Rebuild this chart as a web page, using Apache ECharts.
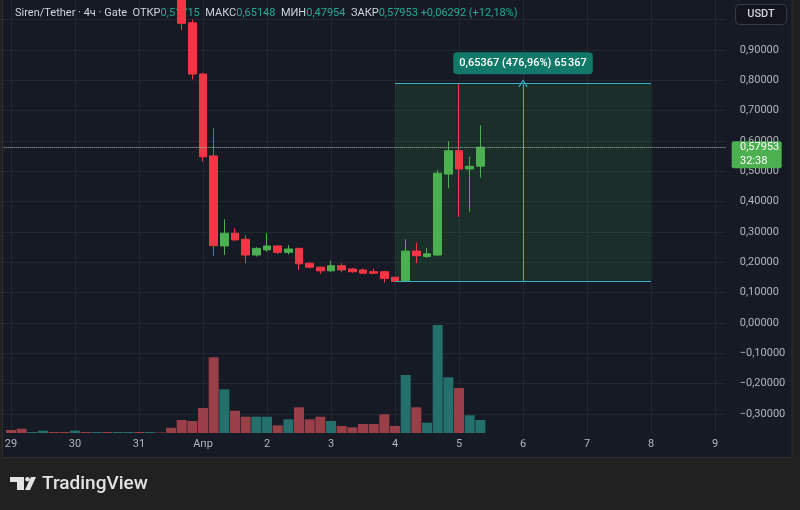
<!DOCTYPE html>
<html>
<head>
<meta charset="utf-8">
<script src="https://cdn.jsdelivr.net/npm/echarts@6/dist/echarts.min.js"></script>
<style>
html, body { margin: 0; padding: 0; background: #212121; }
#main { width: 800px; height: 510px; }
</style>
</head>
<body>
<div id="main"></div>
<script>
var DAYS = ['29', '30', '31', 'Апр', '2', '3', '4', '5', '6', '7', '8', '9'];
var HOURS = ['00', '04', '08', '12', '16', '20'];
var SLOT_COUNT = 69; // one empty slot before 29 00:00, then 4h slots up to 9 04:00

// 4h candles from 29 Mar 00:00, [open, close, low, high]
var candles = [
	[1.47, 1.45, 1.43, 1.49], [1.45, 1.42, 1.40, 1.46], [1.42, 1.43, 1.41, 1.44], [1.43, 1.45, 1.42, 1.46],
	[1.45, 1.44, 1.43, 1.46], [1.44, 1.43, 1.42, 1.45], [1.43, 1.45, 1.42, 1.46], [1.45, 1.44, 1.43, 1.46],
	[1.44, 1.45, 1.43, 1.46], [1.45, 1.44, 1.43, 1.46], [1.44, 1.45, 1.43, 1.46], [1.45, 1.46, 1.44, 1.47],
	[1.46, 1.44, 1.43, 1.47], [1.44, 1.45, 1.43, 1.46], [1.45, 1.44, 1.43, 1.46], [1.44, 1.30, 1.28, 1.45],
	[1.30, 0.988, 0.966, 1.31], [0.990, 0.821, 0.803, 1.001], [0.821, 0.548, 0.532, 0.825], [0.551, 0.255, 0.221, 0.642],
	[0.254, 0.296, 0.224, 0.342], [0.296, 0.274, 0.271, 0.312], [0.276, 0.224, 0.197, 0.290], [0.224, 0.246, 0.219, 0.250],
	[0.241, 0.254, 0.235, 0.296], [0.254, 0.233, 0.227, 0.256], [0.233, 0.244, 0.226, 0.257], [0.246, 0.195, 0.175, 0.248],
	[0.197, 0.184, 0.180, 0.199], [0.184, 0.172, 0.162, 0.186], [0.172, 0.189, 0.169, 0.205], [0.189, 0.175, 0.167, 0.197],
	[0.178, 0.169, 0.166, 0.181], [0.175, 0.164, 0.162, 0.179], [0.169, 0.164, 0.161, 0.178], [0.169, 0.147, 0.133, 0.171],
	[0.151, 0.137, 0.137, 0.152], [0.137, 0.237, 0.137, 0.276], [0.237, 0.222, 0.197, 0.265], [0.219, 0.228, 0.215, 0.248],
	[0.224, 0.494, 0.222, 0.504], [0.491, 0.568, 0.444, 0.600], [0.568, 0.508, 0.350, 0.79072], [0.508, 0.51661, 0.367, 0.548],
	[0.51715, 0.57953, 0.47954, 0.65148]
];

// volume, millions
var volumes = [
	0.30, 0.43, 0.10, 0.23, 0.10, 0.10, 0.23, 0.10, 0.10, 0.10, 0.10, 0.10, 0.10, 0.10, 0.05,
	0.53, 1.30, 1.20, 2.50, 7.57, 4.37, 2.23, 1.63, 1.63, 1.63, 0.77, 1.37, 2.57, 1.37, 1.63,
	1.20, 0.70, 0.57, 0.90, 0.90, 1.87, 0.70, 5.80, 2.57, 1.03, 10.80, 5.57, 4.50, 1.77, 1.30
];

// price range tool
var measureFrom = 36;
var measureTo = 60;
var measureLow = 0.13705;
var measureHigh = 0.79072;

var symbolTitle = 'Siren/Tether · 4ч · Gate';
var barTimer = '32:38';

var UP = '#4caf50';
var DOWN = '#f23645';
var GRID = '#232733';
var TEXT = '#b2b5be';
var RANGE = '#36b0c2';

function fmt(v) {
	var s = Math.abs(v).toFixed(5).replace('.', ',');
	return (v < -1e-9 ? '−' : '') + s;
}

function groupThousands(n) {
	return String(n).replace(/\B(?=(\d{3})+(?!\d))/g, '\u202f');
}

var categories = ['28 20'];
DAYS.forEach(function(d) {
	HOURS.forEach(function(h) {
		categories.push(d + ' ' + h);
	});
});
categories = categories.slice(0, SLOT_COUNT);

// slot 0 is empty, candle i sits in slot i + 1
var candleData = [['-', '-', '-', '-']].concat(candles);
var volumeData = ['-'].concat(volumes.map(function(v, i) {
	var c = candles[i];
	return {
		value: v,
		itemStyle: { color: c[1] >= c[0] ? '#23706c' : '#9a3f47' }
	};
}));

var last = candles[candles.length - 1];
var prevClose = candles[candles.length - 2][1];
var change = last[1] - prevClose;
var changePct = change / prevClose * 100;
var mDiff = measureHigh - measureLow;
var mPct = mDiff / measureLow * 100;
var mLabel = fmt(mDiff) + ' (' + mPct.toFixed(2).replace('.', ',') + '%) ' + groupThousands(Math.round(mDiff * 1e5));
var mMid = (measureFrom + measureTo) / 2 + 1;

function isDayStart(index) {
	return index > 0 && (index - 1) % 6 == 0;
}

var chart = echarts.init(document.getElementById('main'));
var option = {
	animation: false,
	backgroundColor: '#161a25',
	textStyle: { fontFamily: 'Roboto, sans-serif' },
	grid: [
		{ left: 0.33, right: 74.3, top: -10.6, bottom: 65.7, outerBoundsMode: 'none', containLabel: false },
		{ left: 0.33, right: 74.3, top: 0, bottom: 77, outerBoundsMode: 'none', containLabel: false }
	],
	xAxis: [{
		type: 'category',
		gridIndex: 0,
		data: categories,
		boundaryGap: false,
		show: false
	}, {
		type: 'category',
		gridIndex: 1,
		data: categories,
		boundaryGap: false,
		axisLine: { show: false },
		axisTick: { show: false },
		axisLabel: {
			color: TEXT,
			fontSize: 11,
			margin: 6,
			interval: function(index) {
				return isDayStart(index);
			},
			formatter: function(value) {
				return value.split(' ')[0];
			}
		},
		splitLine: {
			show: true,
			interval: function(index) {
				return isDayStart(index);
			},
			lineStyle: { color: GRID, width: 1 }
		}
	}],
	yAxis: [{
		type: 'value',
		gridIndex: 0,
		position: 'right',
		min: -0.4,
		max: 1.1,
		interval: 0.1,
		axisLine: { show: false },
		axisTick: { show: false },
		axisLabel: {
			color: TEXT,
			fontSize: 11,
			margin: 14,
			formatter: function(v) {
				if (v > 0.95 || v < -0.35) {
					return '';
				}
				return fmt(v);
			}
		},
		splitLine: {
			show: true,
			showMinLine: false,
			showMaxLine: false,
			lineStyle: { color: GRID, width: 1 }
		}
	}, {
		type: 'value',
		gridIndex: 1,
		min: 0,
		max: 43.3,
		show: false,
		splitLine: { show: false }
	}],
	series: [{
		type: 'bar',
		name: 'volume',
		xAxisIndex: 1,
		yAxisIndex: 1,
		data: volumeData,
		barWidth: 10,
		silent: true
	}, {
		type: 'candlestick',
		name: 'Siren/Tether',
		xAxisIndex: 0,
		yAxisIndex: 0,
		data: candleData,
		barWidth: 8,
		itemStyle: {
			color: UP,
			color0: DOWN,
			borderColor: UP,
			borderColor0: DOWN,
			borderWidth: 1
		},
		markArea: {
			silent: true,
			itemStyle: { color: 'rgba(60,150,70,0.17)', borderWidth: 0 },
			data: [[
				{ coord: [measureFrom + 1, measureHigh] },
				{ coord: [measureTo + 1, measureLow] }
			]]
		},
		markLine: {
			silent: true,
			symbol: ['none', 'none'],
			label: { show: false },
			emphasis: { disabled: true },
			lineStyle: { color: RANGE, width: 1, type: 'solid', opacity: 1 },
			data: [
				[{ coord: [measureFrom + 1, measureHigh] }, { coord: [measureTo + 1, measureHigh] }],
				[{ coord: [measureFrom + 1, measureLow] }, { coord: [measureTo + 1, measureLow] }],
				[
					{ coord: [mMid, measureLow], symbol: 'none' },
					{ coord: [mMid, measureHigh], symbol: 'path://M0 9 L5 0 L10 9 L9 10 L5 2.5 L1 10 Z', symbolSize: [9, 8] }
				],
				{ yAxis: last[1], lineStyle: { color: '#9fb8a5', type: 'dotted', width: 1 } }
			]
		},
		markPoint: {
			silent: true,
			symbol: 'rect',
			symbolSize: 0,
			data: [{
				coord: [mMid, measureHigh],
				label: {
					show: true,
					position: 'top',
					distance: 9,
					formatter: mLabel,
					color: '#ffffff',
					fontSize: 11,
					fontWeight: 500,
					lineHeight: 12,
					backgroundColor: '#127868',
					borderRadius: 4,
					padding: [5, 6]
				}
			}]
		}
	}]
};
chart.setOption(option);

// overlays: legend line, price tag, frame and logo
var priceY = chart.convertToPixel({ yAxisIndex: 0 }, last[1]);
var plotRight = chart.convertToPixel({ xAxisIndex: 0 }, SLOT_COUNT - 1);

chart.setOption({
	graphic: [{
		type: 'text',
		x: 15,
		y: 13,
		z: 1,
		style: {
			text: '{t|' + symbolTitle + '}  {l|ОТКР}{v|' + fmt(last[0]) + '}  {l|МАКС}{v|' + fmt(last[3]) +
				'}  {l|МИН}{v|' + fmt(last[2]) + '}  {l|ЗАКР}{v|' + fmt(last[1]) + '} {v|+' + fmt(change) +
				' (+' + changePct.toFixed(2).replace('.', ',') + '%)}',
			verticalAlign: 'middle',
			font: '11px Roboto',
			rich: {
				t: { fill: '#d1d4dc', font: '11px Roboto' },
				l: { fill: '#d1d4dc', font: '11px Roboto' },
				v: { fill: '#22ab94', font: '11px Roboto' }
			}
		}
	}, {
		type: 'rect',
		z: 50,
		shape: { x: plotRight + 6, y: priceY - 6, width: 50, height: 27, r: 2 },
		style: { fill: UP }
	}, {
		type: 'text',
		z: 51,
		x: 740,
		y: priceY + 0.5,
		style: { text: fmt(last[1]), fill: '#ffffff', font: '11px Roboto', verticalAlign: 'middle' }
	}, {
		type: 'text',
		z: 51,
		x: 740,
		y: priceY + 14,
		style: { text: barTimer, fill: '#ffffff', font: '11px Roboto', verticalAlign: 'middle' }
	}, {
		type: 'rect',
		z: 50,
		shape: { x: 735.5, y: 4.5, width: 51, height: 20, r: 4 },
		style: { fill: '#12151d', stroke: '#363a45', lineWidth: 1 }
	}, {
		type: 'text',
		z: 51,
		x: 761,
		y: 14.5,
		style: { text: 'USDT', fill: '#d1d4dc', font: '500 11px Roboto', align: 'center', verticalAlign: 'middle' }
	}, {
		type: 'rect',
		z: 100,
		shape: { x: 0, y: 0, width: 3, height: 510 },
		style: { fill: '#212121' }
	}, {
		type: 'rect',
		z: 100,
		shape: { x: 792, y: 0, width: 8, height: 510 },
		style: { fill: '#212121' }
	}, {
		type: 'rect',
		z: 100,
		shape: { x: 0, y: 458, width: 800, height: 52 },
		style: { fill: '#212121' }
	}, {
		type: 'rect',
		z: 101,
		shape: { x: 2.5, y: -1, width: 789.5, height: 458.5 },
		style: { fill: 'none', stroke: '#2f2f2f', lineWidth: 1 }
	}, {
		type: 'polygon',
		z: 101,
		shape: { points: [[10, 477], [24, 477], [24, 490], [17, 490], [17, 482], [10, 482]] },
		style: { fill: '#e3e3e3' }
	}, {
		type: 'circle',
		z: 101,
		shape: { cx: 27.5, cy: 479.2, r: 2.3 },
		style: { fill: '#e3e3e3' }
	}, {
		type: 'polygon',
		z: 101,
		shape: { points: [[31, 477], [36, 477], [30, 490], [25, 490]] },
		style: { fill: '#e3e3e3' }
	}, {
		type: 'text',
		z: 101,
		x: 42,
		y: 484,
		style: { text: 'TradingView', fill: '#e3e3e3', font: '500 19px Roboto', verticalAlign: 'middle' }
	}]
});
</script>
</body>
</html>
